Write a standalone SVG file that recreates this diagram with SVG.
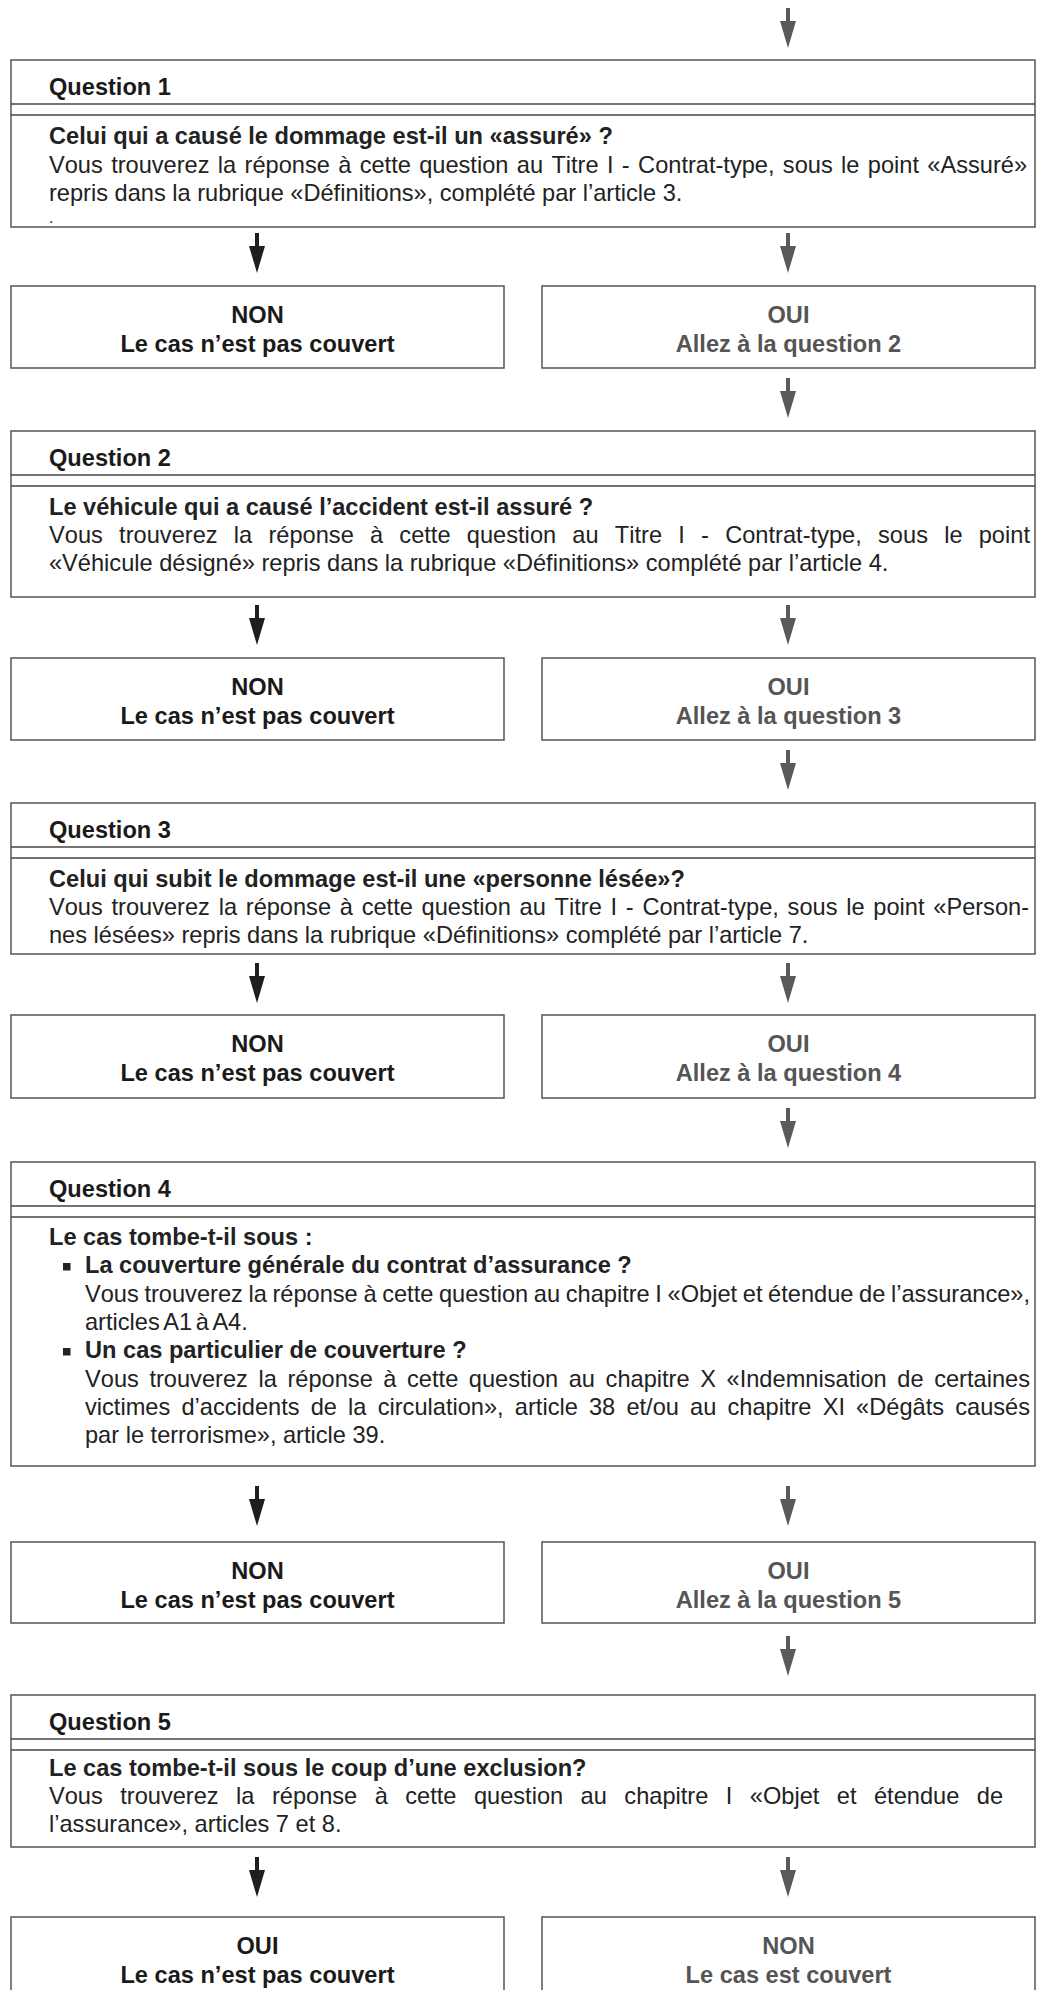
<svg xmlns="http://www.w3.org/2000/svg" width="1037" height="1990" viewBox="0 0 1037 1990">
<style>
text{font-family:"Liberation Sans",Arial,Helvetica,sans-serif;font-size:23.6px;font-kerning:none;fill:#222}
.b{font-weight:bold}
.h{font-weight:bold;fill:#1a1a1a}
.dot{font-size:16px}
.box{fill:#fff;stroke:#555;stroke-width:1.5}
.sep{stroke:#444;stroke-width:1.5}
.ansL{font-weight:bold;fill:#1a1a1a;text-anchor:middle}
.ansR{font-weight:bold;fill:#555;text-anchor:middle}
.arrK{fill:#1e1e1e}
.arrG{fill:#5a5a5a}
.bul{fill:#222}
</style>
<defs>
<path id="arr" d="M-2,0 H2 V13 H8 L0,40 L-8,13 H-2 Z"/>
</defs>
<rect width="1037" height="1990" fill="#fff"/>

<g id="connectors">
<use href="#arr" class="arrG" x="788" y="8"/>
<use href="#arr" class="arrK" x="257" y="233"/>
<use href="#arr" class="arrG" x="788" y="233"/>
<use href="#arr" class="arrG" x="788" y="378"/>
<use href="#arr" class="arrK" x="257" y="605"/>
<use href="#arr" class="arrG" x="788" y="605"/>
<use href="#arr" class="arrG" x="788" y="750"/>
<use href="#arr" class="arrK" x="257" y="963"/>
<use href="#arr" class="arrG" x="788" y="963"/>
<use href="#arr" class="arrG" x="788" y="1108"/>
<use href="#arr" class="arrK" x="257" y="1486"/>
<use href="#arr" class="arrG" x="788" y="1486"/>
<use href="#arr" class="arrG" x="788" y="1636"/>
<use href="#arr" class="arrK" x="257" y="1857"/>
<use href="#arr" class="arrG" x="788" y="1857"/>
</g>

<g id="q1">
<rect class="box" x="11" y="60" width="1024" height="167"/>
<line class="sep" x1="11" y1="104" x2="1035" y2="104"/>
<line class="sep" x1="11" y1="115" x2="1035" y2="115"/>
<text class="h" x="49" y="95">Question 1</text>
<text class="b" x="49" y="144">Celui qui a causé le dommage est-il un «assuré» ?</text>
<text x="49" y="173" word-spacing="1.8" textLength="978" lengthAdjust="spacing">Vous trouverez la réponse à cette question au Titre I - Contrat-type, sous le point «Assuré»</text>
<text x="49" y="201">repris dans la rubrique «Définitions», complété par l’article 3.</text>
<text class="dot" x="49" y="223">.</text>
</g>

<g id="a1no">
<rect class="box" x="11" y="286" width="493" height="82"/>
<text class="ansL" x="257.5" y="323">NON</text>
<text class="ansL" x="257.5" y="352">Le cas n’est pas couvert</text>
</g>
<g id="a1yes">
<rect class="box" x="542" y="286" width="493" height="82"/>
<text class="ansR" x="788.5" y="323">OUI</text>
<text class="ansR" x="788.5" y="352">Allez à la question 2</text>
</g>

<g id="q2">
<rect class="box" x="11" y="431" width="1024" height="166"/>
<line class="sep" x1="11" y1="475" x2="1035" y2="475"/>
<line class="sep" x1="11" y1="486" x2="1035" y2="486"/>
<text class="h" x="49" y="466">Question 2</text>
<text class="b" x="49" y="515">Le véhicule qui a causé l’accident est-il assuré ?</text>
<text x="49" y="543" word-spacing="9.6" textLength="981" lengthAdjust="spacing">Vous trouverez la réponse à cette question au Titre I - Contrat-type, sous le point</text>
<text x="49" y="571">«Véhicule désigné» repris dans la rubrique «Définitions» complété par l’article 4.</text>
</g>

<g id="a2no">
<rect class="box" x="11" y="658" width="493" height="82"/>
<text class="ansL" x="257.5" y="695">NON</text>
<text class="ansL" x="257.5" y="724">Le cas n’est pas couvert</text>
</g>
<g id="a2yes">
<rect class="box" x="542" y="658" width="493" height="82"/>
<text class="ansR" x="788.5" y="695">OUI</text>
<text class="ansR" x="788.5" y="724">Allez à la question 3</text>
</g>

<g id="q3">
<rect class="box" x="11" y="803" width="1024" height="151"/>
<line class="sep" x1="11" y1="847" x2="1035" y2="847"/>
<line class="sep" x1="11" y1="858" x2="1035" y2="858"/>
<text class="h" x="49" y="838">Question 3</text>
<text class="b" x="49" y="887">Celui qui subit le dommage est-il une «personne lésée»?</text>
<text x="49" y="915" word-spacing="2.2" textLength="980" lengthAdjust="spacing">Vous trouverez la réponse à cette question au Titre I - Contrat-type, sous le point «Person-</text>
<text x="49" y="943">nes lésées» repris dans la rubrique «Définitions» complété par l’article 7.</text>
</g>

<g id="a3no">
<rect class="box" x="11" y="1015" width="493" height="83"/>
<text class="ansL" x="257.5" y="1052">NON</text>
<text class="ansL" x="257.5" y="1081">Le cas n’est pas couvert</text>
</g>
<g id="a3yes">
<rect class="box" x="542" y="1015" width="493" height="83"/>
<text class="ansR" x="788.5" y="1052">OUI</text>
<text class="ansR" x="788.5" y="1081">Allez à la question 4</text>
</g>

<g id="q4">
<rect class="box" x="11" y="1162" width="1024" height="304"/>
<line class="sep" x1="11" y1="1206" x2="1035" y2="1206"/>
<line class="sep" x1="11" y1="1217" x2="1035" y2="1217"/>
<text class="h" x="49" y="1197">Question 4</text>
<text class="b" x="49" y="1245">Le cas tombe-t-il sous :</text>
<rect class="bul" x="63" y="1263" width="7.5" height="7.5"/>
<text class="b" x="85" y="1273">La couverture générale du contrat d’assurance ?</text>
<text x="85" y="1302" word-spacing="-0.9" textLength="945" lengthAdjust="spacing">Vous trouverez la réponse à cette question au chapitre I «Objet et étendue de l’assurance»,</text>
<text x="85" y="1330" word-spacing="-3">articles A1 à A4.</text>
<rect class="bul" x="63" y="1348" width="7.5" height="7.5"/>
<text class="b" x="85" y="1358">Un cas particulier de couverture ?</text>
<text x="85" y="1387" word-spacing="4" textLength="945" lengthAdjust="spacing">Vous trouverez la réponse à cette question au chapitre X «Indemnisation de certaines</text>
<text x="85" y="1415" word-spacing="4.6" textLength="945" lengthAdjust="spacing">victimes d’accidents de la circulation», article 38 et/ou au chapitre XI «Dégâts causés</text>
<text x="85" y="1443">par le terrorisme», article 39.</text>
</g>

<g id="a4no">
<rect class="box" x="11" y="1542" width="493" height="81"/>
<text class="ansL" x="257.5" y="1579">NON</text>
<text class="ansL" x="257.5" y="1608">Le cas n’est pas couvert</text>
</g>
<g id="a4yes">
<rect class="box" x="542" y="1542" width="493" height="81"/>
<text class="ansR" x="788.5" y="1579">OUI</text>
<text class="ansR" x="788.5" y="1608">Allez à la question 5</text>
</g>

<g id="q5">
<rect class="box" x="11" y="1695" width="1024" height="152"/>
<line class="sep" x1="11" y1="1739" x2="1035" y2="1739"/>
<line class="sep" x1="11" y1="1750" x2="1035" y2="1750"/>
<text class="h" x="49" y="1730">Question 5</text>
<text class="b" x="49" y="1776">Le cas tombe-t-il sous le coup d’une exclusion?</text>
<text x="49" y="1804" word-spacing="10.9" textLength="954" lengthAdjust="spacing">Vous trouverez la réponse à cette question au chapitre I «Objet et étendue de</text>
<text x="49" y="1832">l’assurance», articles 7 et 8.</text>
</g>

<g id="a5yes">
<rect class="box" x="11" y="1917" width="493" height="82"/>
<text class="ansL" x="257.5" y="1954">OUI</text>
<text class="ansL" x="257.5" y="1983">Le cas n’est pas couvert</text>
</g>
<g id="a5no">
<rect class="box" x="542" y="1917" width="493" height="82"/>
<text class="ansR" x="788.5" y="1954">NON</text>
<text class="ansR" x="788.5" y="1983">Le cas est couvert</text>
</g>
</svg>
